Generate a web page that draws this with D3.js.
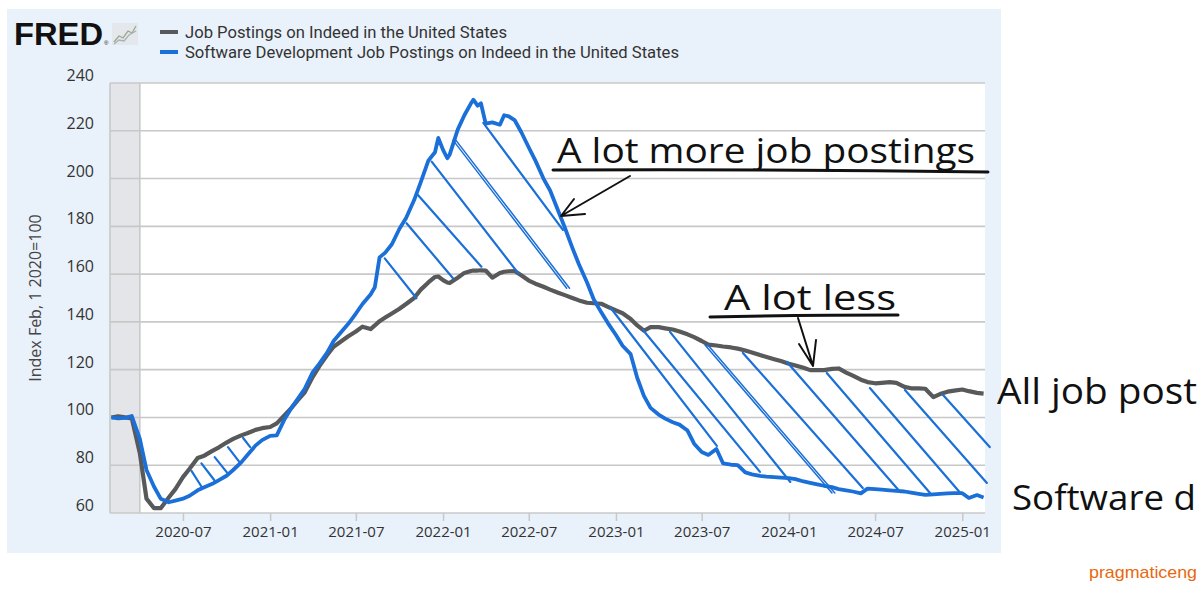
<!DOCTYPE html>
<html><head><meta charset="utf-8">
<script src="https://cdn.jsdelivr.net/npm/d3@7"></script>
<style>body{margin:0;background:#fff}svg{display:block}</style>
</head><body>
<svg id="chart" width="1200" height="600"></svg>
<script>
const dates = ["2020-02-01","2020-02-15","2020-03-01","2020-03-15","2020-04-01","2020-04-15","2020-05-01","2020-05-15","2020-06-01","2020-06-15",
"2020-07-01","2020-07-15","2020-08-01","2020-08-15","2020-09-01","2020-09-15","2020-10-01","2020-10-15","2020-11-01","2020-11-15","2020-12-01","2020-12-15",
"2021-01-01","2021-01-15","2021-02-01","2021-02-15","2021-03-01","2021-03-15","2021-04-01","2021-04-15","2021-05-01","2021-05-15","2021-06-01","2021-06-15",
"2021-07-01","2021-07-15","2021-08-01","2021-08-10","2021-08-20","2021-09-01","2021-09-15","2021-10-01","2021-10-15","2021-11-01","2021-11-15","2021-12-01","2021-12-15","2021-12-22",
"2022-01-01","2022-01-10","2022-01-15","2022-02-01","2022-02-15","2022-03-01","2022-03-06","2022-03-15","2022-03-22","2022-04-01","2022-04-15","2022-05-01","2022-05-10","2022-05-20","2022-06-01","2022-06-15",
"2022-07-01","2022-07-15","2022-08-01","2022-08-15","2022-09-01","2022-09-15","2022-10-01","2022-10-15","2022-11-01","2022-11-15","2022-12-01","2022-12-15",
"2023-01-01","2023-01-15","2023-02-01","2023-02-15","2023-03-01","2023-03-15","2023-04-01","2023-04-15","2023-05-01","2023-05-15","2023-06-01","2023-06-15",
"2023-07-01","2023-07-15","2023-08-01","2023-08-15","2023-09-01","2023-09-15","2023-10-01","2023-10-15","2023-11-01","2023-11-15","2023-12-01","2023-12-15",
"2024-01-01","2024-01-15","2024-02-01","2024-02-15","2024-03-01","2024-03-15","2024-04-01","2024-04-15","2024-05-01","2024-05-15","2024-06-01","2024-06-15",
"2024-07-01","2024-07-15","2024-08-01","2024-08-15","2024-09-01","2024-09-15","2024-10-01","2024-10-15","2024-11-01","2024-11-15","2024-12-01","2024-12-15",
"2025-01-01","2025-01-15","2025-02-01","2025-02-15"];

const jobPostings = [100,100.5,100,99.6,85,66,62,62,66.5,70,
75,78.5,83,84,86,87.5,89.5,91,92.5,93.5,94.8,95.5,
96,97.5,101,104,107.3,110.5,117,121.5,126,129.6,132,134,
136,138,137,138.5,140.3,141.8,143.5,145.5,147.5,150,153.5,156.5,158.8,159,
157.5,156.5,156.3,158.5,160.5,161.3,161.5,161.5,161.6,161.5,158.5,160.5,161,161.2,161.3,159.5,
157.3,156,154.7,153.5,152.2,151.2,150,149,148,147.8,147.6,146.3,
144.8,143.6,141.2,138.5,136.3,137.8,137.8,137.3,136.8,136,134.8,133.6,
132,130.5,130.1,129.7,129.3,128.8,128,127.2,126.1,125.3,124.4,123.6,
122.5,121.7,120.8,119.8,119.8,119.8,120.3,120.5,118.8,117.5,115.8,114.8,
114.3,114.5,114.8,114.5,112.8,112.2,112.2,112,108.5,109.8,110.8,111.2,
111.7,111,110.3,110];

const softwareDev = [100,99.6,99.8,100.6,91,78,71,66,64.5,65.2,
66,67.2,69.5,70.8,72.2,73.8,75.6,78,81.2,84.5,88.2,90.5,
92.3,92.5,99.5,104,108,112,119,122.5,127,132,136,139.2,
143.5,147.5,151.5,154.5,167,169,172.5,179,183.5,191,198.5,207.5,211,217,
212,208.5,210,220.5,226.5,231.5,233,230.5,231.5,223,223.5,222.5,226.5,226,224.5,219.5,
213,207.5,200,195,186.5,179.5,171,164,156.5,149.5,144,139.5,
134.5,130,126.5,116.5,109,104,101.2,99.5,98,97,94.5,89,
85.5,84.3,86.8,80.8,80.2,80,77,76.2,75.5,75.2,75,74.8,
74.6,74.2,73.2,72.6,72,71.4,70.8,70,69.5,69,68.2,70.2,
70,69.8,69.5,69.3,69,68.5,68,67.6,67.8,68,68.2,68.3,
68.3,66.3,67.5,66.5];

const yTicks = [60,80,100,120,140,160,180,200,220,240];
const xTickLabels = ["2020-07","2021-01","2021-07","2022-01","2022-07","2023-01","2023-07","2024-01","2024-07","2025-01"];
const seriesNames = ["Job Postings on Indeed in the United States","Software Development Job Postings on Indeed in the United States"];
const recession = ["2020-02-01","2020-04-01"];

// hand-drawn hatch strokes: [start date, start value, end date, end value]
const hatchSegments = [
 ["2020-07-19",77.6,"2020-08-09",71.1],
 ["2020-08-09",80.8,"2020-09-05",73.8],
 ["2020-09-06",83.4,"2020-10-03",76.7],
 ["2020-10-04",87.6,"2020-10-30",80.9],
 ["2020-11-05",91.4,"2020-11-20",87.6],
 ["2021-08-31",166.6,"2021-11-06",149.9],
 ["2021-10-16",181.3,"2022-01-22",158.3],
 ["2021-11-09",193.1,"2022-03-23",163.1],
 ["2021-12-08",207.1,"2022-06-09",160.3],
 ["2022-03-27",223.3,"2022-09-11",178.5],
 ["2022-12-21",145.8,"2023-08-02",88.1],
 ["2023-02-27",136.6,"2023-11-01",77.2],
 ["2023-04-25",135.8,"2024-01-04",73.0],
 ["2023-09-26",127.0,"2024-06-05",70.5],
 ["2023-12-28",123.2,"2024-08-23",68.8],
 ["2024-03-21",118.6,"2024-10-25",68.4],
 ["2024-06-20",112.3,"2024-12-28",68.4],
 ["2024-09-02",111.5,"2025-02-22",72.6],
 ["2024-11-21",109.5,"2025-02-28",87.6]
];
const hatchDoubles = [
 ["2022-01-22",216.1,"2022-09-19",154.1],
 ["2022-01-28",216.1,"2022-09-25",154.1],
 ["2023-07-08",130.3,"2024-04-01",68.4],
 ["2023-07-14",130.3,"2024-04-07",68.4]
];

const svg = d3.select("#chart");
const parse = d3.timeParse("%Y-%m-%d");
const L = 110, R = 985, T = 83, B = 513;
const x = d3.scaleTime().domain([parse("2020-01-29"), parse("2025-02-18")]).range([L, R]);
const y = d3.scaleLinear().domain([60, 240]).range([B, T]);

// panel
svg.append("rect").attr("x",7).attr("y",9).attr("width",994).attr("height",544).attr("fill","#e9f1fa");
svg.append("rect").attr("x",L).attr("y",T).attr("width",R-L).attr("height",B-T).attr("fill","#fff");
// recession band
const rx1 = x(parse(recession[1]));
svg.append("rect").attr("x",L).attr("y",T).attr("width",rx1-L).attr("height",B-T).attr("fill","#e3e5e8");
svg.append("line").attr("x1",rx1).attr("x2",rx1).attr("y1",T).attr("y2",B).attr("stroke","#c4c6c9").attr("stroke-width",1.5);
svg.append("line").attr("x1",L).attr("x2",L).attr("y1",T).attr("y2",B).attr("stroke","#c4c6c9").attr("stroke-width",1.5);

// gridlines
svg.append("g").selectAll("line").data(yTicks).join("line")
  .attr("x1",L).attr("x2",R).attr("y1",d=>y(d)).attr("y2",d=>y(d))
  .attr("stroke","#c8c8c8").attr("stroke-width",1.6);

// y labels
svg.append("g").selectAll("text").data(yTicks).join("text")
  .attr("x",94).attr("y",d=>y(d)-2).attr("text-anchor","end")
  .attr("font-family","'Open Sans'").attr("font-size",16).attr("fill","#333").text(d=>d);
svg.append("text").attr("transform","translate(41,298) rotate(-90)").attr("text-anchor","middle")
  .attr("font-family","'Open Sans'").attr("font-size",16).attr("fill","#444").text("Index Feb, 1 2020=100");

// x axis
const xa = svg.append("g").attr("transform",`translate(0,${B})`)
  .call(d3.axisBottom(x).tickValues(xTickLabels.map(s=>parse(s+"-01"))).tickFormat(d3.timeFormat("%Y-%m")).tickSize(8).tickPadding(5));
xa.select(".domain").remove();
xa.selectAll(".tick line").attr("stroke","#c8c8c8").attr("stroke-width",1.5);
xa.selectAll(".tick text").attr("font-family","'Open Sans'").attr("font-size",15).attr("fill","#333");

// series
const pts = vals => dates.map((d,i)=>[parse(d), vals[i]]);
const line = d3.line().x(d=>x(d[0])).y(d=>y(d[1]));
svg.append("path").attr("d",line(pts(jobPostings))).attr("fill","none").attr("stroke","#58595b").attr("stroke-width",4.2).attr("stroke-linejoin","round");
svg.append("path").attr("d",line(pts(softwareDev))).attr("fill","none").attr("stroke","#1a6fd8").attr("stroke-width",3.8).attr("stroke-linejoin","round");

// hatches
const seg = s => [[x(parse(s[0])), y(s[1])],[x(parse(s[2])), y(s[3])]];
svg.append("g").selectAll("path").data(hatchSegments).join("path")
  .attr("d",s=>d3.line()(seg(s))).attr("stroke","#1a6fd8").attr("stroke-width",2.2).attr("stroke-linecap","round");
svg.append("g").selectAll("path").data(hatchDoubles).join("path")
  .attr("d",s=>d3.line()(seg(s))).attr("stroke","#1a6fd8").attr("stroke-width",1.5).attr("stroke-linecap","round");

// legend + logo
svg.append("text").attr("x",14).attr("y",45).attr("font-family","'Liberation Sans'").attr("font-weight",700)
  .attr("font-size",31).attr("textLength",89).attr("lengthAdjust","spacingAndGlyphs").attr("fill","#111").text("FRED");
svg.append("text").attr("x",104).attr("y",45).attr("font-family","'Liberation Sans'").attr("font-size",6).attr("fill","#111").text("®");
svg.append("rect").attr("x",112).attr("y",23).attr("width",26).attr("height",22).attr("fill","#e4e8ec");
svg.append("polyline").attr("points","114,42 119,36 123,38 128,31 132,33 136,26").attr("fill","none").attr("stroke","#9aa88a").attr("stroke-width",1.3);
svg.append("polyline").attr("points","114,44 119,40 124,41 129,35 136,31").attr("fill","none").attr("stroke","#a9b0b8").attr("stroke-width",1.3);
const legColors = ["#58595b","#1a6fd8"];
const legWidths = [322, 494];
seriesNames.forEach((n,i)=>{
  svg.append("line").attr("x1",160).attr("x2",178).attr("y1",32+i*20).attr("y2",32+i*20).attr("stroke",legColors[i]).attr("stroke-width",4);
  svg.append("text").attr("x",185).attr("y",38+i*20).attr("font-family","Roboto").attr("font-size",16.6)
    .attr("textLength",legWidths[i]).attr("lengthAdjust","spacingAndGlyphs").attr("fill","#333").text(n);
});

// annotations
const hand = "'Open Sans'";
svg.append("text").attr("x",557).attr("y",163).attr("font-family",hand).attr("font-size",34).attr("fill","#111")
  .attr("textLength",418).attr("lengthAdjust","spacingAndGlyphs").text("A lot more job postings");
svg.append("path").attr("d","M553,170 Q770,169 988,172").attr("fill","none").attr("stroke","#111").attr("stroke-width",3).attr("stroke-linecap","round");
svg.append("path").attr("d","M630,176 L561,216 M561,216 L574,199 M561,216 L585,214").attr("fill","none").attr("stroke","#111").attr("stroke-width",2).attr("stroke-linecap","round");

svg.append("text").attr("x",724).attr("y",310).attr("font-family",hand).attr("font-size",34).attr("fill","#111")
  .attr("textLength",172).attr("lengthAdjust","spacingAndGlyphs").text("A lot less");
svg.append("path").attr("d","M710,317 Q800,315 898,315").attr("fill","none").attr("stroke","#111").attr("stroke-width",3).attr("stroke-linecap","round");
svg.append("path").attr("d","M798,318 L813,366 M813,366 L799,344 M813,366 L816,340").attr("fill","none").attr("stroke","#111").attr("stroke-width",2).attr("stroke-linecap","round");

// side labels (only the part visible inside the frame)
svg.append("text").attr("x",997).attr("y",404).attr("font-family",hand).attr("font-size",36).attr("fill","#111")
  .attr("textLength",200).attr("lengthAdjust","spacingAndGlyphs").text("All job post");
svg.append("text").attr("x",1012).attr("y",510).attr("font-family",hand).attr("font-size",34).attr("fill","#111")
  .attr("textLength",184).attr("lengthAdjust","spacingAndGlyphs").text("Software d");
svg.append("text").attr("x",1089).attr("y",578).attr("font-family","'Liberation Sans'").attr("font-size",17).attr("fill","#e8680e")
  .attr("textLength",108).attr("lengthAdjust","spacingAndGlyphs").text("pragmaticeng");
</script>
</body></html>
